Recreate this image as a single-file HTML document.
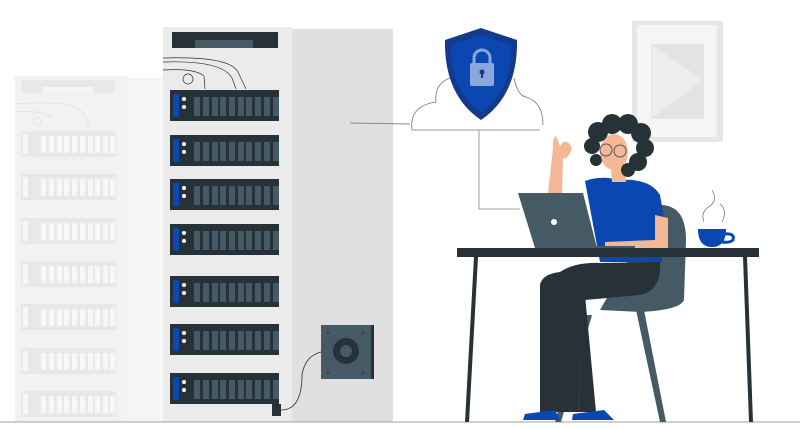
<!DOCTYPE html>
<html><head><style>html,body{margin:0;padding:0;background:#fff}svg{display:block}</style></head>
<body>
<svg width="800" height="429" viewBox="0 0 800 429" xmlns="http://www.w3.org/2000/svg">
<!-- faded rack -->
<rect x="15" y="76" width="113" height="346" fill="#f2f2f2"/>
<rect x="128" y="78" width="35" height="344" fill="#f5f5f5"/>
<rect x="22" y="80" width="93" height="13" fill="#e8e8e8"/>
<rect x="43" y="87" width="50" height="6" fill="#f5f5f5"/>
<path d="M15 104 Q70 100 80 110 T88 130 M15 112 Q45 110 52 118" stroke="#e3e3e3" fill="none"/>
<circle cx="37" cy="121" r="4" stroke="#e3e3e3" fill="none"/>
<g fill="#e8e8e8">
<rect x="21" y="131" width="95" height="26"/><rect x="21" y="174" width="95" height="26"/>
<rect x="21" y="218" width="95" height="26"/><rect x="21" y="261" width="95" height="26"/>
<rect x="21" y="304" width="95" height="26"/><rect x="21" y="348" width="95" height="26"/>
<rect x="21" y="391" width="95" height="26"/>
</g>
<g id="fs" fill="#f7f7f7">
<rect x="23" y="134" width="5" height="20"/><rect x="41" y="136" width="5" height="17"/><rect x="49" y="136" width="5" height="17"/><rect x="57" y="136" width="5" height="17"/><rect x="64" y="136" width="5" height="17"/><rect x="72" y="136" width="5" height="17"/><rect x="80" y="136" width="5" height="17"/><rect x="88" y="136" width="5" height="17"/><rect x="95" y="136" width="5" height="17"/><rect x="103" y="136" width="5" height="17"/><rect x="110" y="136" width="5" height="17"/>
</g>
<use href="#fs" y="43"/><use href="#fs" y="87"/><use href="#fs" y="130"/><use href="#fs" y="173"/><use href="#fs" y="217"/><use href="#fs" y="260"/>
<!-- main rack -->
<rect x="163" y="27" width="129" height="395" fill="#ebebeb"/>
<rect x="292" y="29" width="101" height="393" fill="#e0e0e0"/>
<rect x="172" y="32" width="106" height="16" fill="#263238"/>
<rect x="195" y="40" width="58" height="8" fill="#455a64"/>
<path d="M163 58 Q230 56 238 72 L246 89 M163 70 Q195 68 204 76 L205 89 M163 62 Q222 60 232 78 L236 89" stroke="#263238" stroke-width="0.7" fill="none"/>
<circle cx="188" cy="79" r="5" stroke="#263238" stroke-width="0.7" fill="none"/>
<g id="u">
<rect x="170" y="90" width="109" height="31" fill="#263238"/>
<rect x="173" y="94" width="6" height="23" fill="#0b47b0"/>
<circle cx="184" cy="99" r="2" fill="#fff"/><circle cx="184" cy="107" r="2" fill="#fff"/>
<g fill="#455a64">
<rect x="194" y="97" width="6" height="19"/><rect x="203" y="97" width="6" height="19"/><rect x="212" y="97" width="6" height="19"/><rect x="220" y="97" width="6" height="19"/><rect x="229" y="97" width="6" height="19"/><rect x="238" y="97" width="6" height="19"/><rect x="246" y="97" width="6" height="19"/><rect x="255" y="97" width="6" height="19"/><rect x="264" y="97" width="6" height="19"/><rect x="273" y="97" width="6" height="19"/>
</g></g>
<use href="#u" y="45"/><use href="#u" y="89"/><use href="#u" y="134"/><use href="#u" y="186"/><use href="#u" y="234"/><use href="#u" y="283"/>
<rect x="321" y="325" width="53" height="54" fill="#455a64"/>
<rect x="371" y="325" width="3" height="54" fill="#263238"/>
<circle cx="346" cy="351" r="13" fill="#263238"/><circle cx="346" cy="351" r="6" fill="#455a64"/>
<g fill="#263238"><circle cx="328" cy="333" r="1"/><circle cx="363" cy="333" r="1"/><circle cx="328" cy="373" r="1"/><circle cx="363" cy="373" r="1"/></g>
<path d="M321 352 Q305 356 302 375 Q302 410 281 410" stroke="#263238" fill="none" stroke-width="0.8"/>
<rect x="272" y="404" width="9" height="12" fill="#263238"/>
<line x1="0" y1="422" x2="800" y2="422" stroke="#9ea3a6" stroke-width="1"/>
<line x1="350" y1="123" x2="410" y2="124" stroke="#888" stroke-width="1"/>
<!-- cloud -->
<path d="M412 130 Q409 106 436 102 Q434 84 450 78 M514 78 Q518 96 526 97 Q543 102 543 125 M412 130 L540 130" stroke="#777" stroke-width="0.8" fill="none"/>
<path d="M479 130 L479 209 L520 209" stroke="#888" stroke-width="0.8" fill="none"/>
<!-- shield -->
<path d="M481 28 L445 40 Q444 95 481 120 Q518 95 517 40 Z" fill="#133a8c"/>
<path d="M481 35 L451 45 Q450 92 481 112 Q512 92 511 45 Z" fill="#0b47b0"/>
<rect x="470" y="63" width="24" height="23" rx="2" fill="#8aa6da"/>
<path d="M474 64 V58 A8 8 0 0 1 490 58 V64" stroke="#8aa6da" stroke-width="3" fill="none"/>
<circle cx="482" cy="72" r="2.5" fill="#133a8c"/><rect x="481" y="72" width="2" height="6" fill="#133a8c"/>
<!-- frame -->
<rect x="632" y="21" width="91" height="121" fill="#e6e6e6"/>
<rect x="637" y="25" width="80" height="112" fill="#f5f5f5"/>
<rect x="651" y="44" width="53" height="75" fill="#e3e3e3"/>
<path d="M652 45 L703 80 L652 118 Z" fill="#ededed"/>
<!-- chair -->
<path d="M660 205 Q686 205 686 240 L684 300 Q680 310 640 312 L600 310 Z" fill="#455a64"/>
<path d="M636 310 L660 422 L666 422 L644 310 Z M585 315 L555 422 L561 422 L592 315 Z" fill="#455a64"/>
<!-- person -->
<path d="M585 181 Q600 175 620 180 Q650 178 660 195 L668 240 L600 262 Z" fill="#0b47b0"/>
<rect x="600" y="252" width="62" height="10" fill="#0b47b0"/>
<path d="M655 215 L668 218 L668 250 L605 252 L605 242 L655 240 Z" fill="#f5b896"/>
<path d="M548 193 L553 148 Q552 138 556 136 L560 146 Q566 136 572 148 Q568 160 563 158 L562 195 Z" fill="#f5b896"/>
<path d="M610 160 L624 160 L626 182 L612 182 Z" fill="#f5b896"/>
<ellipse cx="614" cy="152" rx="14" ry="18" fill="#f5b896"/>
<g fill="#263238">
<circle cx="598" cy="132" r="10"/><circle cx="612" cy="124" r="10"/><circle cx="628" cy="124" r="10"/><circle cx="641" cy="133" r="10"/><circle cx="645" cy="148" r="9"/><circle cx="638" cy="162" r="9"/><circle cx="628" cy="170" r="7"/><circle cx="592" cy="146" r="8"/><circle cx="596" cy="160" r="6"/>
</g>
<ellipse cx="612" cy="155" rx="11" ry="14" fill="#f5b896"/>
<circle cx="606" cy="150" r="6" stroke="#455a64" fill="none"/><circle cx="620" cy="151" r="6" stroke="#455a64" fill="none"/>
<path d="M560 272 Q575 262 600 263 L660 262 Q662 290 640 295 L585 300 L578 412 L540 412 L540 285 Q542 274 560 272 Z" fill="#263238"/>
<path d="M585 295 L596 412 L578 412 Z" fill="#263238"/>
<path d="M525 414 L555 410 L560 420 L523 420 Z M573 414 L604 410 L614 420 L572 420 Z" fill="#0b47b0"/>
<!-- laptop -->
<path d="M518 193 L583 193 L597 248 L535 248 Z" fill="#455a64"/>
<circle cx="554" cy="222" r="3" fill="#fff"/>
<rect x="535" y="246" width="100" height="3" fill="#455a64"/>
<!-- desk -->
<rect x="457" y="248" width="302" height="9" fill="#263238"/>
<path d="M474 257 L478 257 L469 422 L465 422 Z M743 257 L747 257 L753 422 L749 422 Z" fill="#263238"/>
<!-- cup -->
<path d="M698 229 L726 229 Q726 247 712 247 Q698 247 698 229 Z" fill="#0b47b0"/>
<path d="M725 234 Q735 233 733 240 Q730 243 722 242" stroke="#0b47b0" stroke-width="3" fill="none"/>
<path d="M704 222 Q700 212 710 206 Q718 200 712 190 M722 222 Q728 210 720 204" stroke="#555" stroke-width="0.6" fill="none"/>
</svg>
</body></html>
